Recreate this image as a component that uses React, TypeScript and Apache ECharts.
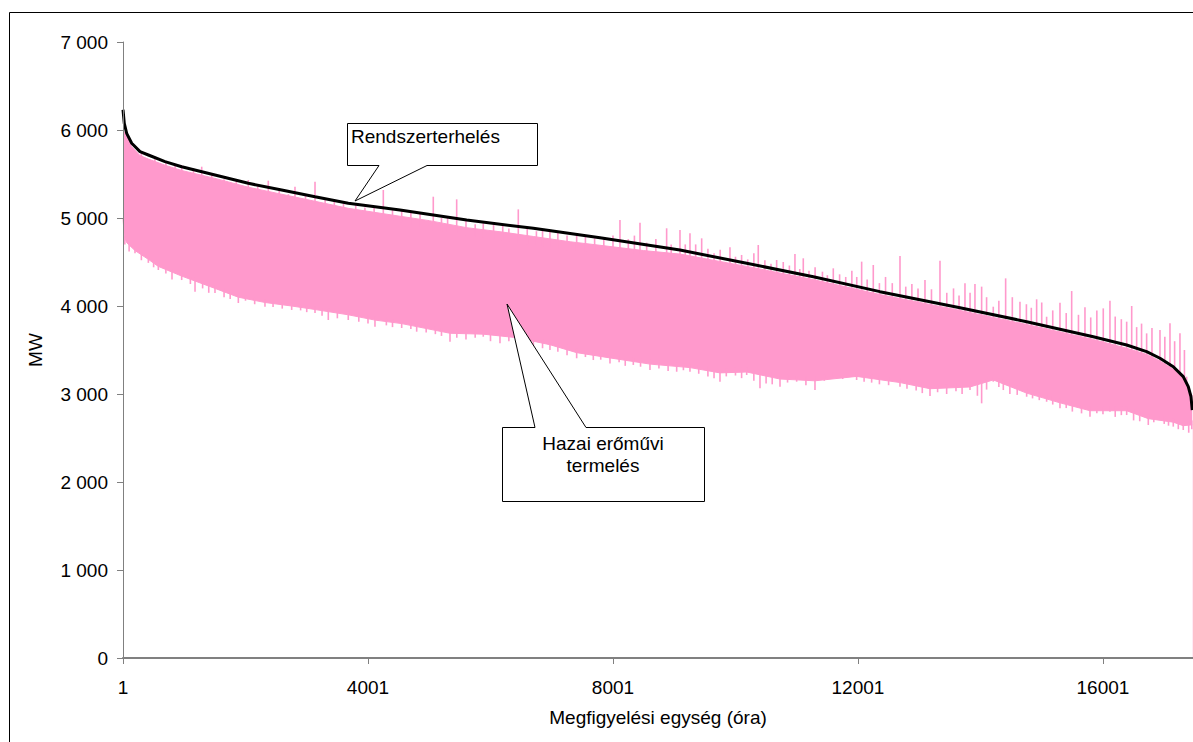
import React, { useEffect, useRef } from "react";
import * as echarts from "echarts";

// Rendszerterhelés (load duration curve)
const loadHours = [0, 5, 21, 60, 142, 278, 414, 686, 958, 1502, 2046, 2591, 3135, 3678, 4522, 5611, 6699, 7788, 9094, 10183, 11271, 12359, 13665, 14754, 15842, 16387, 16713, 16931, 17148, 17311, 17393, 17437, 17458];
const loadMW = [6230, 6227, 6076, 5962, 5849, 5754, 5716, 5640, 5583, 5489, 5394, 5318, 5242, 5167, 5091, 4977, 4883, 4775, 4636, 4485, 4333, 4163, 3981, 3822, 3651, 3557, 3481, 3406, 3310, 3197, 3083, 2969, 2818];

// Hazai erőművi termelés – top of the dense band
const bandTopHours = [0, 60, 142, 278, 414, 686, 958, 1502, 2046, 2591, 3135, 3678, 4522, 5000, 5611, 6200, 6699, 7300, 7788, 8500, 9094, 10183, 11271, 12359, 13665, 14754, 15842, 16387, 16713, 16931, 17148, 17311, 17393, 17458];
const bandTopMW = [6000, 5920, 5810, 5710, 5670, 5600, 5540, 5450, 5350, 5270, 5190, 5110, 5020, 4970, 4890, 4840, 4790, 4730, 4690, 4630, 4590, 4450, 4300, 4130, 3950, 3790, 3620, 3520, 3450, 3375, 3280, 3170, 3060, 2980];

// Hazai erőművi termelés – bottom of the dense band
const bandBottomHours = [0, 20, 60, 196, 414, 577, 958, 1502, 1883, 2318, 2754, 3135, 3678, 4114, 4550, 5339, 5882, 6427, 6971, 7407, 7951, 8604, 9257, 9747, 10183, 10727, 11298, 11978, 12686, 13176, 13829, 14209, 14754, 15298, 15788, 16387, 16740, 17148, 17311, 17458];
const bandBottomMW = [5000, 4800, 4720, 4630, 4530, 4450, 4340, 4200, 4100, 4040, 4000, 3960, 3900, 3840, 3800, 3690, 3680, 3640, 3560, 3470, 3410, 3340, 3300, 3240, 3250, 3170, 3150, 3200, 3130, 3060, 3080, 3160, 3010, 2900, 2810, 2810, 2720, 2680, 2640, 2650];

// Hazai erőművi termelés – single-hour peaks above the band [hour, from, to]
const peakHours = [300, 520, 700, 850, 958, 1150, 1285, 1450, 1650, 1850, 2046, 2200, 2372, 2550, 2700, 2808, 2980, 3135, 3300, 3450, 3600, 3800, 3950, 4100, 4250, 4400, 4550, 4700, 4850, 5066, 5200, 5300, 5448, 5600, 5750, 5882, 6050, 6200, 6300, 6454, 6600, 6750, 6850, 6971, 7100, 7250, 7407, 7550, 7700, 7850, 8000, 8114, 8250, 8350, 8441, 8550, 8700, 8876, 8950, 9094, 9180, 9257, 9350, 9448, 9550, 9650, 9750, 9910, 10000, 10100, 10200, 10300, 10372, 10480, 10580, 10672, 10780, 10880, 10971, 11050, 11107, 11200, 11300, 11420, 11500, 11597, 11700, 11800, 11900, 11980, 12060, 12150, 12250, 12350, 12450, 12560, 12686, 12780, 12880, 12980, 13094, 13200, 13339, 13450, 13560, 13650, 13747, 13830, 13910, 14019, 14100, 14209, 14300, 14411, 14520, 14645, 14750, 14830, 14917, 15000, 15080, 15180, 15298, 15400, 15489, 15600, 15706, 15800, 15900, 16005, 16114, 16200, 16300, 16387, 16469, 16550, 16630, 16713, 16800, 16931, 17010, 17094, 17170, 17257, 17330, 17366];
const peakFromMW = [5680, 5620, 5560, 5530, 5500, 5470, 5450, 5410, 5380, 5350, 5310, 5290, 5270, 5240, 5220, 5200, 5180, 5150, 5120, 5100, 5080, 5050, 5030, 5010, 4990, 4970, 4950, 4920, 4890, 4860, 4850, 4840, 4820, 4800, 4790, 4780, 4760, 4740, 4730, 4720, 4700, 4690, 4680, 4670, 4650, 4630, 4620, 4620, 4610, 4640, 4630, 4620, 4610, 4600, 4590, 4580, 4570, 4560, 4560, 4540, 4530, 4520, 4510, 4500, 4490, 4480, 4470, 4450, 4440, 4430, 4410, 4400, 4390, 4380, 4370, 4360, 4340, 4330, 4320, 4310, 4300, 4290, 4280, 4260, 4250, 4240, 4220, 4210, 4190, 4180, 4170, 4150, 4140, 4120, 4110, 4100, 4080, 4070, 4060, 4040, 4030, 4010, 4000, 3980, 3970, 3950, 3930, 3920, 3910, 3890, 3880, 3870, 3850, 3840, 3820, 3810, 3790, 3780, 3760, 3750, 3740, 3730, 3710, 3690, 3680, 3660, 3640, 3620, 3610, 3590, 3570, 3550, 3530, 3510, 3500, 3480, 3460, 3430, 3400, 3360, 3330, 3300, 3260, 3220, 3160, 3110];
const peakToMW = [5740, 5690, 5640, 5600, 5602, 5560, 5583, 5500, 5440, 5420, 5432, 5360, 5424, 5320, 5270, 5356, 5260, 5413, 5220, 5190, 5160, 5150, 5120, 5130, 5318, 5090, 5091, 5060, 5050, 5242, 5000, 5020, 5212, 4970, 4930, 4940, 4920, 4910, 4880, 5098, 4890, 4850, 4870, 4845, 4830, 4800, 4807, 4790, 4770, 4760, 4800, 4977, 4760, 4800, 4947, 4720, 4760, 4883, 4700, 4864, 4700, 4826, 4700, 4769, 4650, 4600, 4640, 4667, 4560, 4580, 4530, 4600, 4693, 4520, 4480, 4523, 4500, 4460, 4591, 4420, 4542, 4400, 4440, 4390, 4350, 4428, 4360, 4330, 4400, 4330, 4504, 4300, 4466, 4260, 4330, 4260, 4568, 4220, 4250, 4200, 4295, 4190, 4515, 4150, 4200, 4120, 4258, 4150, 4250, 4220, 4100, 3992, 4060, 4314, 4100, 4049, 4020, 3980, 4076, 4040, 3878, 3950, 4038, 3920, 4170, 3900, 3985, 3870, 3950, 3973, 4061, 3880, 3850, 3822, 4000, 3760, 3800, 3689, 3750, 3727, 3650, 3803, 3600, 3689, 3500, 3197];

// Hazai erőművi termelés – single-hour lows below the band [hour, from, to]
const dipHours = [30, 100, 196, 300, 414, 500, 577, 700, 800, 958, 1100, 1176, 1300, 1400, 1502, 1650, 1750, 1883, 2000, 2150, 2318, 2450, 2600, 2754, 2900, 3000, 3135, 3250, 3352, 3500, 3678, 3850, 4000, 4114, 4300, 4400, 4550, 4700, 4795, 4950, 5100, 5200, 5339, 5450, 5600, 5750, 5882, 6000, 6155, 6300, 6427, 6550, 6700, 6850, 6971, 7100, 7250, 7407, 7550, 7679, 7800, 7951, 8100, 8200, 8332, 8450, 8604, 8750, 8900, 9040, 9150, 9257, 9400, 9550, 9650, 9747, 9850, 10000, 10100, 10183, 10300, 10400, 10500, 10600, 10727, 10850, 10999, 11150, 11298, 11450, 11597, 11750, 11978, 12100, 12223, 12350, 12500, 12686, 12800, 12950, 13050, 13176, 13300, 13448, 13600, 13700, 13829, 13950, 14019, 14100, 14209, 14300, 14373, 14480, 14600, 14754, 14850, 14960, 15080, 15180, 15298, 15400, 15500, 15650, 15788, 15900, 16000, 16114, 16200, 16300, 16387, 16500, 16600, 16740, 16830, 16931, 17000, 17070, 17148, 17230, 17311, 17400, 17450];
const dipFromMW = [4700, 4620, 4600, 4520, 4490, 4440, 4409, 4370, 4300, 4295, 4250, 4163, 4200, 4150, 4148, 4100, 4080, 4034, 4060, 4020, 3992, 3990, 3970, 3955, 3950, 3930, 3920, 3890, 3841, 3860, 3841, 3820, 3800, 3765, 3780, 3760, 3750, 3740, 3708, 3700, 3680, 3660, 3595, 3640, 3620, 3640, 3651, 3600, 3576, 3600, 3614, 3560, 3540, 3520, 3500, 3480, 3440, 3406, 3420, 3386, 3390, 3348, 3360, 3320, 3330, 3310, 3273, 3290, 3260, 3253, 3270, 3253, 3230, 3200, 3180, 3140, 3200, 3210, 3180, 3216, 3150, 3065, 3120, 3110, 3083, 3130, 3140, 3100, 3045, 3150, 3197, 3170, 3159, 3140, 3129, 3110, 3100, 3083, 3060, 3040, 3010, 2977, 3020, 3000, 3030, 3000, 3045, 2980, 2894, 3050, 3140, 3080, 3045, 3000, 2990, 2969, 2950, 2930, 2912, 2880, 2837, 2840, 2800, 2780, 2742, 2780, 2770, 2799, 2740, 2760, 2761, 2700, 2690, 2648, 2680, 2723, 2660, 2640, 2629, 2600, 2591, 2560, 2600];
const dipToMW = [4800, 4720, 4660, 4600, 4560, 4520, 4480, 4440, 4420, 4380, 4330, 4320, 4280, 4260, 4240, 4200, 4170, 4140, 4120, 4100, 4080, 4060, 4050, 4040, 4020, 4010, 4000, 3980, 3970, 3950, 3940, 3920, 3900, 3880, 3860, 3850, 3840, 3820, 3810, 3790, 3770, 3750, 3730, 3730, 3720, 3720, 3720, 3710, 3700, 3690, 3680, 3660, 3640, 3620, 3600, 3580, 3560, 3520, 3500, 3480, 3470, 3450, 3440, 3420, 3410, 3400, 3390, 3380, 3370, 3360, 3350, 3350, 3330, 3310, 3300, 3290, 3290, 3300, 3300, 3300, 3280, 3260, 3250, 3240, 3220, 3220, 3210, 3200, 3200, 3220, 3250, 3250, 3250, 3230, 3220, 3210, 3200, 3180, 3160, 3140, 3130, 3110, 3110, 3110, 3120, 3120, 3130, 3140, 3160, 3180, 3200, 3180, 3160, 3120, 3100, 3060, 3040, 3020, 3000, 2980, 2950, 2930, 2910, 2880, 2860, 2860, 2860, 2860, 2860, 2860, 2860, 2830, 2810, 2770, 2760, 2750, 2740, 2730, 2720, 2700, 2680, 2690, 2700];

const xTickValues = [0, 4000, 8000, 12000, 16000];

const FONT = "Liberation Sans, Arial, sans-serif";
const PINK = "#FF99CC";

const zip = (xs: number[], ys: number[]) => xs.map((x, i) => [x, ys[i]]);
const zip3 = (xs: number[], a: number[], b: number[]) => xs.map((x, i) => [x, a[i], b[i]]);
const fmtThousands = (v: number) => String(v).replace(/\B(?=(\d{3})+(?!\d))/g, " ");

const renderStroke = (params: any, api: any) => {
  const p1 = api.coord([api.value(0), api.value(1)]);
  const p2 = api.coord([api.value(0), api.value(2)]);
  return {
    type: "line",
    shape: { x1: p1[0], y1: p1[1], x2: p2[0], y2: p2[1] },
    style: { stroke: PINK, lineWidth: 1.6 },
  };
};

export default function App() {
  const ref = useRef<HTMLDivElement>(null);
  useEffect(() => {
    if (!ref.current) return;
    const chart = echarts.init(ref.current, null, { renderer: "svg" });
    chart.setOption({
      animation: false,
      backgroundColor: "#ffffff",
      grid: { left: 123, top: 42, right: 0, bottom: 84, containLabel: false },
      xAxis: {
        type: "value",
        min: 0,
        max: 17470,
        z: 10,
        name: "Megfigyelési egység (óra)",
        nameLocation: "middle",
        nameGap: 50,
        nameTextStyle: { fontFamily: FONT, fontSize: 19, color: "#000" },
        axisLine: { show: true, onZero: false, lineStyle: { color: "#808080", width: 2 } },
        axisTick: { show: true, length: 6, customValues: xTickValues, lineStyle: { color: "#808080", width: 1 } },
        axisLabel: {
          customValues: xTickValues,
          margin: 20,
          fontFamily: FONT,
          fontSize: 19,
          color: "#000",
          formatter: (v: number) => String(v + 1),
        },
        splitLine: { show: false },
      },
      yAxis: {
        type: "value",
        min: 0,
        max: 7000,
        interval: 1000,
        z: 10,
        name: "MW",
        nameLocation: "middle",
        nameGap: 78,
        nameTextStyle: { fontFamily: FONT, fontSize: 19, color: "#000" },
        axisLine: { show: true, lineStyle: { color: "#808080", width: 1 } },
        axisTick: { show: true, length: 6, lineStyle: { color: "#808080", width: 1 } },
        axisLabel: {
          margin: 15,
          fontFamily: FONT,
          fontSize: 19,
          color: "#000",
          formatter: (v: number) => fmtThousands(v),
        },
        splitLine: { show: false },
      },
      series: [
        {
          name: "Hazai erőművi termelés",
          type: "line",
          data: zip(bandTopHours, bandTopMW),
          showSymbol: false,
          symbol: "none",
          silent: true,
          z: 2,
          lineStyle: { color: PINK, width: 1 },
          areaStyle: { color: PINK, opacity: 1 },
        },
        {
          name: "Hazai erőművi termelés (alsó)",
          type: "line",
          data: zip(bandBottomHours, bandBottomMW),
          showSymbol: false,
          symbol: "none",
          silent: true,
          z: 3,
          lineStyle: { color: PINK, width: 1 },
          areaStyle: { color: "#ffffff", opacity: 1 },
        },
        {
          name: "Hazai erőművi termelés (csúcsok)",
          type: "custom",
          silent: true,
          z: 4,
          renderItem: renderStroke,
          encode: { x: 0, y: [1, 2] },
          data: zip3(peakHours, peakFromMW, peakToMW),
        },
        {
          name: "Hazai erőművi termelés (völgyek)",
          type: "custom",
          silent: true,
          z: 4,
          renderItem: renderStroke,
          encode: { x: 0, y: [1, 2] },
          data: zip3(dipHours, dipFromMW, dipToMW),
        },
        {
          name: "Rendszerterhelés",
          type: "line",
          data: zip(loadHours, loadMW),
          showSymbol: false,
          symbol: "none",
          silent: true,
          z: 5,
          lineStyle: { color: "#000000", width: 3 },
        },
      ],
      graphic: [
        {
          type: "rect",
          shape: { x: 9.5, y: 12.5, width: 1400, height: 900 },
          style: { fill: "none", stroke: "#000", lineWidth: 1 },
          silent: true,
          z: 0,
        },
        {
          type: "polygon",
          shape: {
            points: [[347.5, 123.5], [537.5, 123.5], [537.5, 165.5], [427, 165.5], [355, 201], [379, 165.5], [347.5, 165.5]],
          },
          style: { fill: "#ffffff", stroke: "#000", lineWidth: 1 },
          z: 100,
        },
        {
          type: "text",
          style: { text: "Rendszerterhelés", x: 351, y: 136, font: `19px ${FONT}`, fill: "#000", verticalAlign: "middle", align: "left" },
          z: 101,
        },
        {
          type: "polygon",
          shape: {
            points: [[502.5, 427.5], [535, 427.5], [507, 304], [586, 427.5], [704.5, 427.5], [704.5, 501.5], [502.5, 501.5]],
          },
          style: { fill: "#ffffff", stroke: "#000", lineWidth: 1 },
          z: 100,
        },
        {
          type: "text",
          style: { text: "Hazai erőművi", x: 603, y: 443, font: `19px ${FONT}`, fill: "#000", verticalAlign: "middle", align: "center" },
          z: 101,
        },
        {
          type: "text",
          style: { text: "termelés", x: 603, y: 465, font: `19px ${FONT}`, fill: "#000", verticalAlign: "middle", align: "center" },
          z: 101,
        },
      ],
    });
    return () => chart.dispose();
  }, []);
  return <div ref={ref} style={{ position: "fixed", left: 0, top: 0, width: 1193, height: 742 }} />;
}
